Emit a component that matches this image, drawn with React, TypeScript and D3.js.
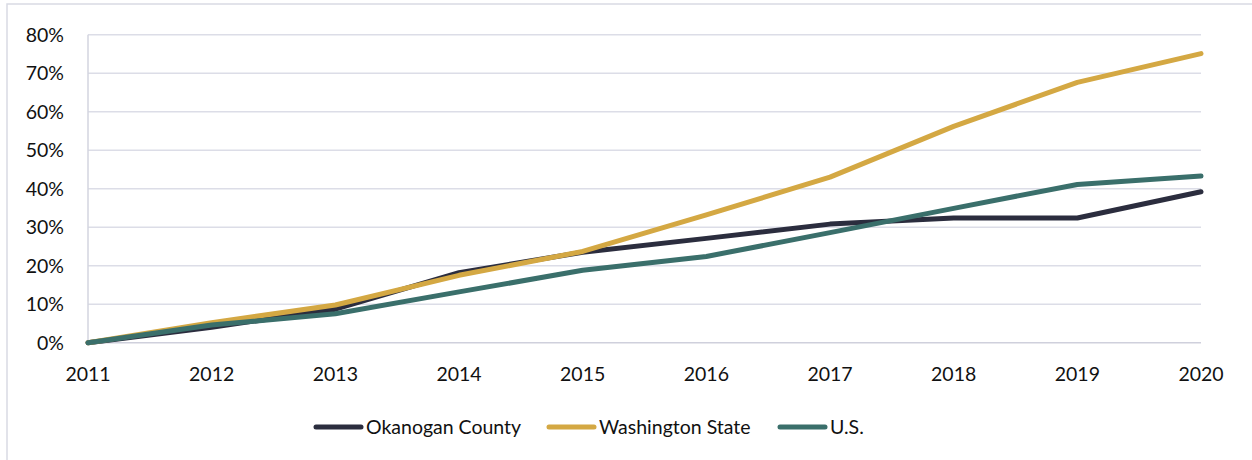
import React, { useRef, useEffect } from "react";
import * as d3 from "d3";

// chart data
const years = [2011, 2012, 2013, 2014, 2015, 2016, 2017, 2018, 2019, 2020];
const okanogan = [0, 4.0, 8.7, 18.2, 23.5, 27.1, 30.8, 32.4, 32.4, 39.2];
const washington = [0, 5.2, 9.8, 17.5, 23.7, 33.2, 43.0, 56.2, 67.6, 75.1];
const us = [0, 4.6, 7.5, 13.2, 18.8, 22.4, 28.6, 34.9, 41.1, 43.3];
const seriesNames = ["Okanogan County", "Washington State", "U.S."];
const seriesColors = ["#2b2d3e", "#d4a843", "#3a6f6b"];
const yTicks = [0, 10, 20, 30, 40, 50, 60, 70, 80];

const App = () => {
  const ref = useRef(null);

  useEffect(() => {
    if (!ref.current) return;
    const svg = d3.select(ref.current);
    svg.selectAll("*").remove();

    const font = "Lato, 'Open Sans', sans-serif";
    const left = 88;
    const right = 1201;
    const top = 34.7;
    const bottom = 342.7;

    // outer frame
    svg
      .append("rect")
      .attr("x", 7)
      .attr("y", 4)
      .attr("width", 1260)
      .attr("height", 480)
      .attr("fill", "none")
      .attr("stroke", "#d9dae4")
      .attr("stroke-width", 1.5);

    const x = d3.scaleLinear().domain([2011, 2020]).range([left, right]);
    const y = d3.scaleLinear().domain([0, 80]).range([bottom, top]);

    // gridlines
    svg
      .append("g")
      .selectAll("line")
      .data(yTicks)
      .join("line")
      .attr("x1", left)
      .attr("x2", right)
      .attr("y1", (d) => y(d))
      .attr("y2", (d) => y(d))
      .attr("stroke", (d) => (d === 0 ? "#cfd0dc" : "#dcdde7"))
      .attr("stroke-width", 1.5);

    // y axis line
    svg
      .append("line")
      .attr("x1", left)
      .attr("x2", left)
      .attr("y1", top)
      .attr("y2", bottom)
      .attr("stroke", "#d3d4df")
      .attr("stroke-width", 1.5);

    // y labels
    svg
      .append("g")
      .selectAll("text")
      .data(yTicks)
      .join("text")
      .attr("x", 64)
      .attr("y", (d) => y(d))
      .attr("dy", "0.35em")
      .attr("text-anchor", "end")
      .attr("font-family", font)
      .attr("font-size", 19.5)
      .attr("fill", "#111")
      .text((d) => d + "%");

    // x labels
    svg
      .append("g")
      .selectAll("text")
      .data(years)
      .join("text")
      .attr("x", (d) => x(d))
      .attr("y", 374)
      .attr("dy", "0.35em")
      .attr("text-anchor", "middle")
      .attr("font-family", font)
      .attr("font-size", 19.5)
      .attr("fill", "#111")
      .text((d) => d);

    const allSeries = [okanogan, washington, us];
    const line = d3
      .line<number>()
      .x((d, i) => x(years[i]))
      .y((d) => y(d));

    svg
      .append("g")
      .selectAll("path")
      .data(allSeries)
      .join("path")
      .attr("d", (d) => line(d))
      .attr("fill", "none")
      .attr("stroke", (d, i) => seriesColors[i])
      .attr("stroke-width", 5)
      .attr("stroke-linejoin", "round")
      .attr("stroke-linecap", "round");

    // legend
    const legendX = [316, 549, 780];
    const legendY = 427;
    const lg = svg
      .append("g")
      .selectAll("g")
      .data(seriesNames)
      .join("g")
      .attr("transform", (d, i) => `translate(${legendX[i]},${legendY})`);
    lg.append("line")
      .attr("x1", 0)
      .attr("x2", 45)
      .attr("stroke", (d, i) => seriesColors[i])
      .attr("stroke-width", 5)
      .attr("stroke-linecap", "round");
    lg.append("text")
      .attr("x", 50)
      .attr("dy", "0.35em")
      .attr("font-family", font)
      .attr("font-size", 19.5)
      .attr("fill", "#111")
      .text((d) => d);
  }, []);

  return (
    <svg
      ref={ref}
      width={1252}
      height={460}
      style={{ position: "absolute", left: 0, top: 0, background: "#fff" }}
    />
  );
};

export default App;
